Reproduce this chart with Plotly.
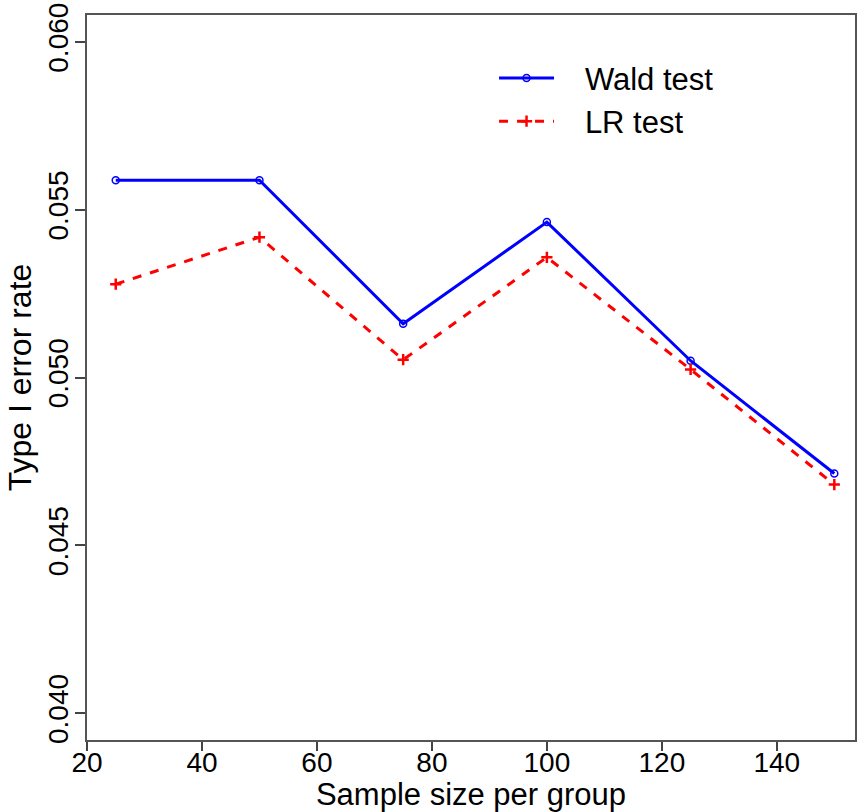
import plotly.graph_objects as go

sample_size = [25, 50, 75, 100, 125, 150]
wald_rate = [0.05588, 0.05588, 0.05160, 0.05463, 0.05050, 0.04714]
lr_rate = [0.05278, 0.05418, 0.05053, 0.05358, 0.05024, 0.04681]
x_ticks = [20, 40, 60, 80, 100, 120, 140]
y_ticks = [0.040, 0.045, 0.050, 0.055, 0.060]
y_tick_labels = ["0.040", "0.045", "0.050", "0.055", "0.060"]

FONT = "Liberation Sans, Arial, sans-serif"
PAD = "\u00a0\u00a0\u00a0"

fig = go.Figure()
fig.add_trace(go.Scatter(
    x=sample_size, y=wald_rate, name=PAD + "Wald test", mode="lines+markers",
    line=dict(color="#0000ff", width=3),
    marker=dict(symbol="circle-open", size=7, color="#0000ff", line=dict(width=1.5)),
))
fig.add_trace(go.Scatter(
    x=sample_size, y=lr_rate, name=PAD + "LR test", mode="lines+markers",
    line=dict(color="#ff0000", width=3, dash="dash"),
    marker=dict(symbol="cross-thin-open", size=8, color="#ff0000", line=dict(width=2.5, color="#ff0000")),
))

fig.update_layout(
    width=857, height=812,
    margin=dict(l=87, r=0, t=15, b=72),
    paper_bgcolor="white", plot_bgcolor="white",
    font=dict(family=FONT, color="black"),
    showlegend=True,
    legend=dict(
        x=0.53, y=0.95, xanchor="left", yanchor="top",
        bgcolor="rgba(0,0,0,0)", font=dict(size=31, family=FONT),
        itemwidth=55, tracegroupgap=0,
    ),
    xaxis=dict(
        range=[20, 153.6], tickvals=x_ticks, ticks="outside", ticklen=9, tickwidth=1.5,
        tickcolor="#444", showline=True, linecolor="#555", linewidth=2, mirror=True,
        showgrid=False, zeroline=False, tickfont=dict(size=28), ticklabelstandoff=-13,
        title=dict(text="Sample size per group", font=dict(size=31), standoff=0),
    ),
    yaxis=dict(
        range=[0.0392, 0.0608], tickvals=y_ticks, ticktext=y_tick_labels, tickangle=-90,
        ticks="outside", ticklen=10, tickwidth=1.5, tickcolor="#444",
        showline=True, linecolor="#555", linewidth=2, mirror=True,
        showgrid=False, zeroline=False, tickfont=dict(size=28), ticklabelstandoff=-4,
        title=dict(text="Type I error rate", font=dict(size=32), standoff=2),
    ),
)

fig.write_html("out.html")
